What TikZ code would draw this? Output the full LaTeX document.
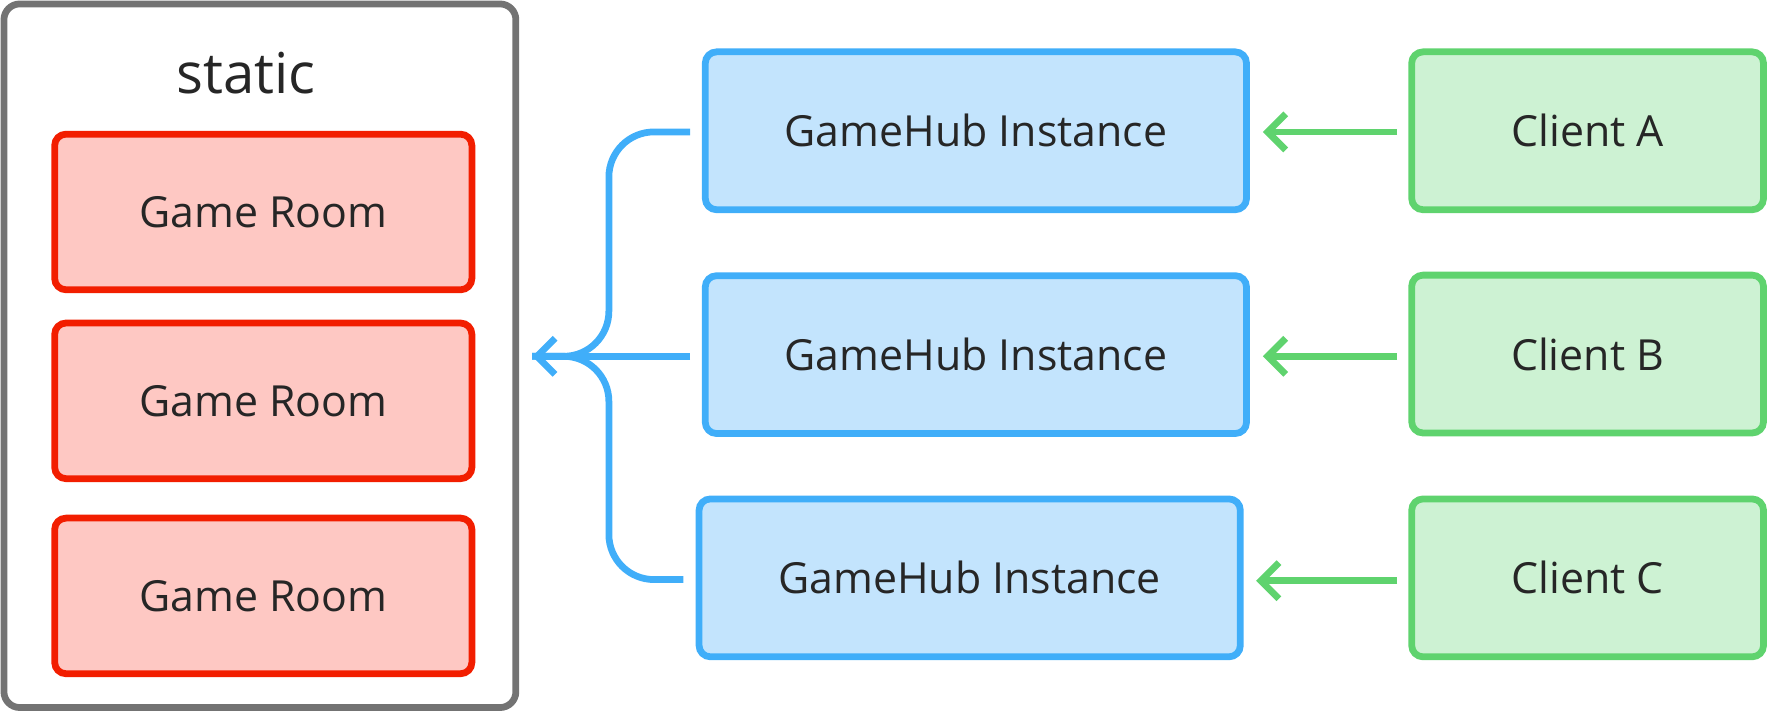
\documentclass[tikz,border=0pt]{standalone}
\usepackage{fontspec}
\setmainfont{Open Sans}
\usetikzlibrary{arrows.meta}
\begin{document}
\begin{tikzpicture}[x=0.5pt,y=-0.5pt,
  box/.style={rounded corners=5pt,line width=3pt,font=\fontsize{19}{22}\selectfont,text=black!85},
  room/.style={box,draw=red!75!orange!95!black,fill={rgb,255:red,254;green,200;blue,195},minimum width=185pt,minimum height=69pt},
  hub/.style={box,draw={rgb,255:red,64;green,174;blue,249},fill={rgb,255:red,195;green,228;blue,253},minimum width=240pt,minimum height=70pt},
  cli/.style={box,draw={rgb,255:red,95;green,211;blue,110},fill={rgb,255:red,205;green,242;blue,211},minimum width=156pt,minimum height=70pt},
  tip/.style={-{Straight Barb[length=8pt,width=16pt,line width=3pt]}},
  gar/.style={line width=3pt,draw={rgb,255:red,95;green,211;blue,110},tip},
  bar/.style={line width=3pt,draw={rgb,255:red,64;green,174;blue,249}}]
\useasboundingbox (0,0) rectangle (1568,631);
\node[draw=black!55,line width=3pt,rounded corners=7pt,minimum width=227pt,minimum height=312pt] (static) at (230.5,315.5) {};
\node[font=\fontsize{25}{30}\selectfont,text=black!85] (st) at (218,65) {static};
\node[room] (r1) at (233.5,188) {Game Room};
\node[room] (r2) at (233.5,355.5) {Game Room};
\node[room] (r3) at (233.5,528.5) {Game Room};
\node[hub] (h1) at (865.5,116) {GameHub Instance};
\node[hub] (h2) at (865.5,314.5) {GameHub Instance};
\node[hub] (h3) at (860,512.5) {GameHub Instance};
\node[cli] (c1) at (1408,116) {Client A};
\node[cli] (c2) at (1408,314) {Client B};
\node[cli] (c3) at (1408,512.5) {Client C};
\coordinate (t) at (472,316);
\draw[gar] ([xshift=-5pt]c1.west|-0,117) -- (1120,117);
\draw[gar] ([xshift=-5pt]c2.west|-0,316) -- (1120,316);
\draw[gar] ([xshift=-5pt]c3.west|-0,515) -- (1114,515);
\draw[bar,tip] (612,316) -- (t);
\draw[bar,rounded corners=20pt] (612,117) -- (540,117) -- (540,316) -- (t);
\draw[bar,rounded corners=20pt] (606,514) -- (540,514) -- (540,316) -- (t);
\end{tikzpicture}
\end{document}
